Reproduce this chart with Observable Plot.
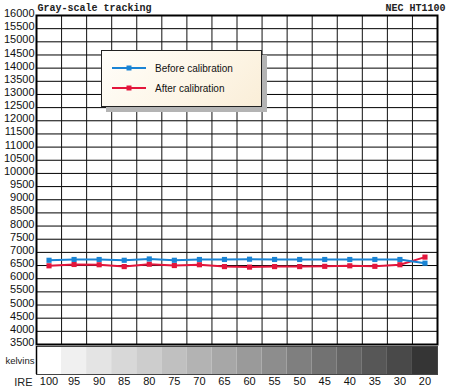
<!DOCTYPE html>
<html>
<head>
<meta charset="utf-8">
<script src="https://cdn.jsdelivr.net/npm/d3@7"></script>
<script src="https://cdn.jsdelivr.net/npm/@observablehq/plot@0.6"></script>
<style>
  html, body { margin: 0; padding: 0; background: #fff; }
  #chart { position: relative; width: 450px; height: 388px; overflow: hidden; }
  #chart svg { display: block; }
  #legend {
    position: absolute; left: 101px; top: 50px; width: 159px; height: 55px;
    border: 1px solid #222;
    background: linear-gradient(135deg, #fffefa 0%, #fdf5e6 60%, #faeed8 100%);
    box-shadow: 5px 5px 0 #b4b4b4;
    font-family: "Liberation Sans", Arial, sans-serif; font-size: 10px; color: #111;
  }
  .item { position: absolute; left: 10px; height: 10px; display: flex; align-items: center; }
  .item span { margin-left: 9px; white-space: nowrap; }
</style>
</head>
<body>
<div id="chart"><div id="legend"></div></div>
<script>
// ---- data ----
const title = "Gray-scale tracking";
const model = "NEC HT1100";
const ireLabels = ["100","95","90","85","80","75","70","65","60","55","50","45","40","35","30","20"];
const before = [6700, 6730, 6730, 6700, 6750, 6700, 6730, 6730, 6740, 6730, 6730, 6730, 6730, 6730, 6730, 6590];
const after  = [6490, 6540, 6530, 6460, 6550, 6500, 6530, 6460, 6440, 6460, 6460, 6470, 6490, 6470, 6530, 6820];
const yTicks = [3500,4000,4500,5000,5500,6000,6500,7000,7500,8000,8500,9000,9500,10000,10500,11000,11500,12000,12500,13000,13500,14000,14500,15000,15500,16000];
const grays = ["#ffffff","#f0f0f0","#e4e4e4","#d8d8d8","#cdcdcd","#c0c0c0","#b3b3b3","#a7a7a7","#9a9a9a","#8d8d8d","#7f7f7f","#727272","#656565","#575757","#494949","#353535"];
const seriesNames = ["Before calibration", "After calibration"];
const seriesColors = ["#1a84d4", "#e3163c"];
const stripLabel = "kelvins";
const axisLabel = "IRE";

// ---- build tables ----
const n = ireLabels.length;
const rows = ireLabels.map((ire, i) => ({ire, pos: i + 0.5, before: before[i], after: after[i]}));
const cells = ireLabels.map((ire, i) => ({ire, x1: i, x2: i + 1, fill: grays[i]}));
const bounds = d3.range(n + 1);
const centers = rows.map(d => d.pos);

const font = {fontFamily: "'Liberation Sans', Arial, sans-serif", fontSize: "11px", color: "#111", background: "transparent", overflow: "visible"};

const main = Plot.plot({
  width: 450, height: 346,
  marginLeft: 36, marginRight: 13, marginTop: 15, marginBottom: 2,
  style: font,
  x: {domain: [0, n], axis: null},
  y: {domain: [yTicks[0], yTicks[yTicks.length - 1]], axis: null},
  marks: [
    Plot.gridY(yTicks, {stroke: "#000", strokeOpacity: 1, strokeWidth: 1}),
    Plot.gridX(bounds, {stroke: "#111", strokeOpacity: 1, strokeWidth: 1}),
    Plot.axisY(yTicks, {tickSize: 0, tickPadding: 2, dy: -2, fontSize: 11, label: null, tickFormat: d => String(d)}),
    Plot.frame({stroke: "#000", strokeWidth: 2}),
    Plot.line(rows, {x: "pos", y: "after", stroke: seriesColors[1], strokeWidth: 2}),
    Plot.dot(rows, {x: "pos", y: "after", symbol: "square", r: 2.9, fill: seriesColors[1], stroke: null}),
    Plot.line(rows, {x: "pos", y: "before", stroke: seriesColors[0], strokeWidth: 2}),
    Plot.dot(rows, {x: "pos", y: "before", symbol: "square", r: 2.9, fill: seriesColors[0], stroke: null}),
    Plot.text([title], {frameAnchor: "top-left", dx: 1, dy: -8, textAnchor: "start", lineAnchor: "middle",
      fontFamily: "'Liberation Mono', 'Courier New', monospace", fontWeight: "bold", fontSize: 10, fill: "#222"}),
    Plot.text([model], {frameAnchor: "top-right", dx: 8, dy: -8, textAnchor: "end", lineAnchor: "middle",
      fontFamily: "'Liberation Mono', 'Courier New', monospace", fontWeight: "bold", fontSize: 10, fill: "#222"})
  ]
});

const strip = Plot.plot({
  width: 450, height: 42,
  marginLeft: 36, marginRight: 13, marginTop: 0, marginBottom: 14,
  style: font,
  x: {domain: [0, n], axis: null},
  marks: [
    Plot.rect(cells, {x1: "x1", x2: "x2", fill: "fill"}),
    Plot.frame({stroke: "#444", strokeWidth: 1}),
    Plot.ruleX([0], {stroke: "#000", strokeWidth: 1.5}),
    Plot.axisX(centers, {tickSize: 0, tickPadding: 3, fontSize: 11, label: null, tickFormat: d => ireLabels[Math.floor(d)]}),
    Plot.text([stripLabel], {frameAnchor: "left", dx: -2, textAnchor: "end", fontSize: 9.5, fill: "#222"}),
    Plot.text([axisLabel], {frameAnchor: "bottom-left", dx: -4, dy: 8, textAnchor: "end", lineAnchor: "middle", fontSize: 11, fill: "#222"})
  ]
});

const chart = document.getElementById("chart");
const legend = document.getElementById("legend");
chart.insertBefore(main, legend);
chart.insertBefore(strip, legend);

// ---- legend ----
seriesNames.forEach((name, k) => {
  const item = document.createElement("div");
  item.className = "item";
  item.style.top = (12 + k * 20) + "px";
  const sw = d3.create("svg").attr("width", 34).attr("height", 8);
  sw.append("line").attr("x1", 0).attr("x2", 34).attr("y1", 4).attr("y2", 4)
    .attr("stroke", seriesColors[k]).attr("stroke-width", 2);
  sw.append("rect").attr("x", 14.5).attr("y", 1.5).attr("width", 5).attr("height", 5).attr("fill", seriesColors[k]);
  item.appendChild(sw.node());
  const t = document.createElement("span");
  t.textContent = name;
  item.appendChild(t);
  legend.appendChild(item);
});
</script>
</body>
</html>
